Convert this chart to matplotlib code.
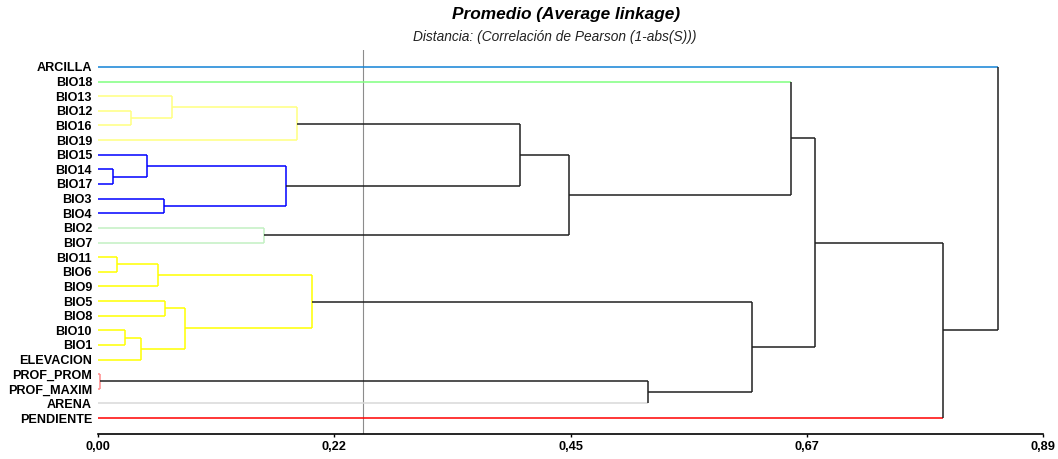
import matplotlib.pyplot as plt

plt.rcParams['font.family'] = ['Liberation Sans', 'DejaVu Sans']

# Leaves in display order (top to bottom)
labels = ['ARCILLA', 'BIO18', 'BIO13', 'BIO12', 'BIO16', 'BIO19', 'BIO15',
          'BIO14', 'BIO17', 'BIO3', 'BIO4', 'BIO2', 'BIO7', 'BIO11', 'BIO6',
          'BIO9', 'BIO5', 'BIO8', 'BIO10', 'BIO1', 'ELEVACION', 'PROF_PROM',
          'PROF_MAXIM', 'ARENA', 'PENDIENTE']

# Average-linkage merges: leaves are 0-24, merge k creates node 25 + k
merge_a = [3, 2, 26, 7, 6, 9, 29, 11, 27, 33, 1, 13, 36, 16, 18, 39, 38,
           37, 21, 43, 42, 35, 46, 0]
merge_b = [4, 25, 5, 8, 28, 10, 30, 12, 31, 32, 34, 14, 15, 17, 19, 20, 40,
           41, 22, 23, 44, 45, 24, 47]
merge_h = [0.031, 0.070, 0.1875, 0.0141, 0.0459, 0.0619, 0.1766, 0.1564,
           0.3977, 0.4436, 0.6528, 0.0176, 0.0565, 0.0631, 0.0252, 0.0405,
           0.0817, 0.2017, 0.0022, 0.5183, 0.6163, 0.6751, 0.7958, 0.8476]

cut = 0.25
x_ticks = [0.0, 0.2225, 0.445, 0.6675, 0.89]
x_ticklabels = ['0,00', '0,22', '0,45', '0,67', '0,89']

# colour of each group formed below the cut
group_colors = {
    'ARCILLA': '#1283d6', 'BIO18': '#80ff80',
    'BIO13': '#ffff80', 'BIO12': '#ffff80', 'BIO16': '#ffff80', 'BIO19': '#ffff80',
    'BIO15': '#0000ff', 'BIO14': '#0000ff', 'BIO17': '#0000ff',
    'BIO3': '#0000ff', 'BIO4': '#0000ff',
    'BIO2': '#c2f0c2', 'BIO7': '#c2f0c2',
    'BIO11': '#ffff00', 'BIO6': '#ffff00', 'BIO9': '#ffff00', 'BIO5': '#ffff00',
    'BIO8': '#ffff00', 'BIO10': '#ffff00', 'BIO1': '#ffff00', 'ELEVACION': '#ffff00',
    'PROF_PROM': '#ff8a8a', 'PROF_MAXIM': '#ff8a8a',
    'ARENA': '#d9d9d9', 'PENDIENTE': '#ff0000',
}
link_color = '#202020'

n = len(labels)
xs = [0.0] * n
ys = list(range(n))
cols = [group_colors[l] for l in labels]
for a, b, h in zip(merge_a, merge_b, merge_h):
    xs.append(h)
    ys.append((ys[a] + ys[b]) / 2)
    cols.append(cols[a] if h < cut else link_color)

fig = plt.figure(figsize=(10.58, 4.59), dpi=100)
ax = fig.add_axes([98 / 1058, 25 / 459, 945 / 1058, 384 / 459])

for k, (a, b, h) in enumerate(zip(merge_a, merge_b, merge_h)):
    node = n + k
    for c in (a, b):
        if h < cut:
            col = cols[node]
        elif c < n:
            col = cols[c]
        else:
            col = link_color
        ax.plot([xs[c], h], [ys[c], ys[c]], color=col, lw=1.1,
                solid_capstyle='butt', zorder=3)
    ax.plot([h, h], [ys[a], ys[b]], color=cols[node], lw=1.1,
            solid_capstyle='butt', zorder=3)

ax.axvline(cut, color='#8c8c8c', lw=0.8, zorder=2)

ax.set_xlim(0, 0.89)
ax.set_ylim(n - 1 + 1.09, -1.16)
ax.set_xticks(x_ticks)
ax.set_xticklabels(x_ticklabels, fontsize=9.2, fontweight='bold')
ax.set_yticks(range(n))
ax.set_yticklabels(labels, fontsize=9.1, fontweight='bold')
ax.tick_params(axis='y', length=0, pad=4.3)
ax.tick_params(axis='x', length=2.5, width=1.0, pad=2.6)
for s in ('top', 'right', 'left'):
    ax.spines[s].set_visible(False)
ax.spines['bottom'].set_linewidth(1.2)

fig.text(566 / 1058, 1 - 19.3 / 459, 'Promedio (Average linkage)', ha='center',
         va='baseline', fontsize=12.4, fontweight='bold', style='italic')
fig.text(554.5 / 1058, 1 - 41 / 459, 'Distancia: (Correlación de Pearson (1-abs(S)))',
         ha='center', va='baseline', fontsize=9.9, style='italic', color='#222222')

fig.savefig('out.png', dpi=100)
